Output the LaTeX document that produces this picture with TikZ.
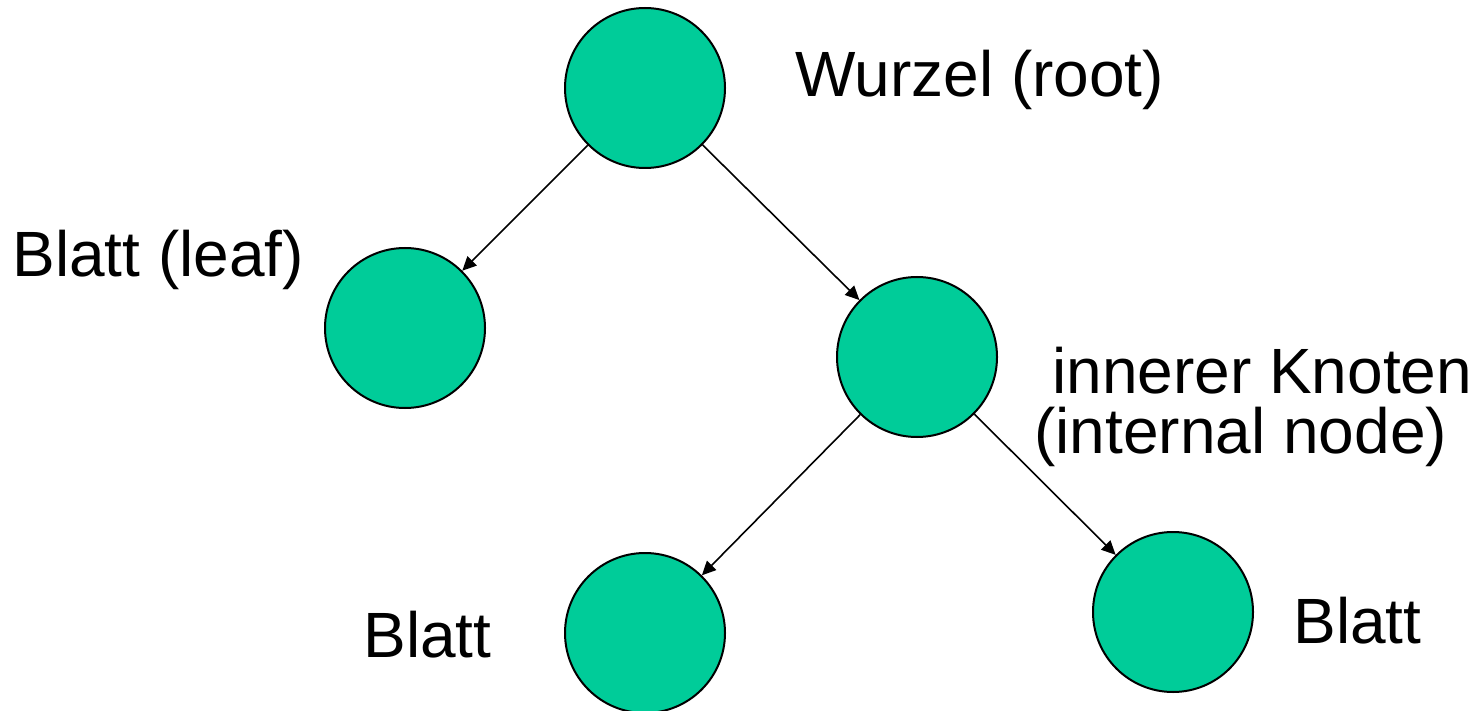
\documentclass[tikz,border=0pt]{standalone}
\usepackage{fontspec}
\setmainfont{Liberation Sans}
\usetikzlibrary{arrows.meta}
\definecolor{nodegreen}{RGB}{0,204,153}
\begin{document}
\begin{tikzpicture}[x=0.5pt,y=-0.5pt,
  treenode/.style={circle,draw=black,line width=1pt,fill=nodegreen,minimum size=80pt,inner sep=0pt},
  edge/.style={line width=0.8pt,-{Triangle[length=7pt,width=6.5pt]}},
  lbl/.style={anchor=base west,inner sep=0pt,font=\fontsize{32pt}{30pt}\selectfont}]
\useasboundingbox (0,0) rectangle (1477,711);
\node[treenode] (root) at (645,88) {};
\node[treenode] (leafL) at (405,328) {};
\node[treenode] (inner) at (917,357) {};
\node[treenode] (leafB) at (645,633) {};
\node[treenode] (leafR) at (1173,612) {};
\draw[edge] (root) -- (leafL);
\draw[edge] (root) -- (inner);
\draw[edge] (inner) -- (leafB);
\draw[edge] (inner) -- (leafR);
\node[lbl] (troot) at (795,97) {Wurzel (root)};
\node[lbl] (tleaf) at (12,277) {Blatt (leaf)};
\node[lbl] (tinner1) at (1052,393) {innerer Knoten};
\node[lbl] (tinner2) at (1034,453) {(internal node)};
\node[lbl] (tblattB) at (363,657) {Blatt};
\node[lbl] (tblattR) at (1293,643) {Blatt};
\end{tikzpicture}
\end{document}
